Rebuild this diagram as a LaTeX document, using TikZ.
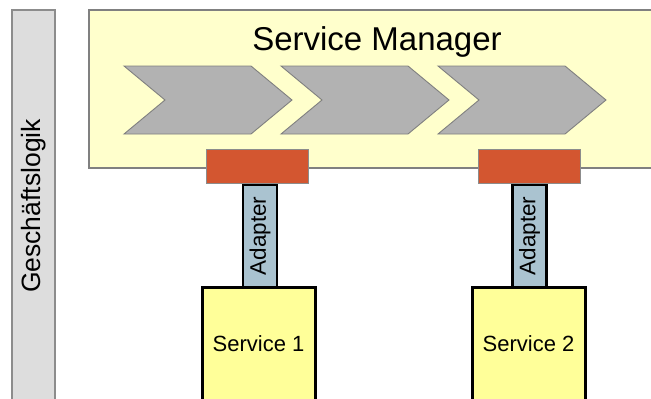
\documentclass[tikz,border=0pt]{standalone}
\usepackage{fontspec}
\setmainfont{Liberation Sans}
\begin{document}
\begin{tikzpicture}[x=1pt,y=-1pt,
  lanebar/.style={draw=black!45,line width=1.3pt},
  mgrbox/.style={draw=black!50,line width=2pt},
  chev/.style={draw=black!50,line width=0.9pt},
  portbox/.style={draw=black!45,line width=1pt,minimum width=102pt,minimum height=34pt,inner sep=0pt},
  adbox/.style={draw=black,line width=2.5pt,minimum width=34pt,minimum height=102pt,inner sep=0pt},
  svbox/.style={draw=black,line width=3pt,inner sep=0pt}]
\useasboundingbox (0,0) rectangle (651,399);
\clip (0,0) rectangle (651,399);
\definecolor{portc}{HTML}{D35630}
\definecolor{adc}{HTML}{AAC3D0}
\definecolor{svc}{HTML}{FFFF99}
\definecolor{mgrc}{HTML}{FFFFCC}
\definecolor{lanec}{HTML}{DDDDDD}
\definecolor{chevc}{HTML}{B2B2B2}
% lane
\draw[lanebar,fill=lanec] (12,10) rectangle (55,415);
\node[rotate=90,font=\fontsize{26.5}{30}\selectfont] (lane) at (33.5,206) {Geschäftslogik};
% manager
\draw[mgrbox,fill=mgrc] (89,10) rectangle (670,168);
\node[anchor=base,font=\fontsize{33}{36}\selectfont] (mgr) at (377,50) {Service Manager};
\foreach \i in {0,1,2}{
  \draw[chev,fill=chevc,xshift=157*\i] (124,66) -- (251,66) -- (292,100) -- (251,134) -- (124,134) -- (165,100) -- cycle;
}
% ports
\node[portbox,fill=portc] (p1) at (257,166) {};
\node[portbox,fill=portc] (p2) at (529,166) {};
% adapters
\node[adbox,fill=adc] (a1) at (260,236) {};
\node[adbox,fill=adc] (a2) at (529.5,236) {};
\node[rotate=90,font=\fontsize{22.5}{26}\selectfont] at (a1) {Adapter};
\node[rotate=90,font=\fontsize{22.5}{26}\selectfont] at (a2) {Adapter};
% services
\draw[svbox,fill=svc] (202,287) rectangle (315,420);
\draw[svbox,fill=svc] (472,287) rectangle (585,420);
\node[anchor=base,font=\fontsize{22}{26}\selectfont] (s1) at (258.5,351) {Service 1};
\node[anchor=base,font=\fontsize{22}{26}\selectfont] (s2) at (528.5,351) {Service 2};
\end{tikzpicture}
\end{document}
